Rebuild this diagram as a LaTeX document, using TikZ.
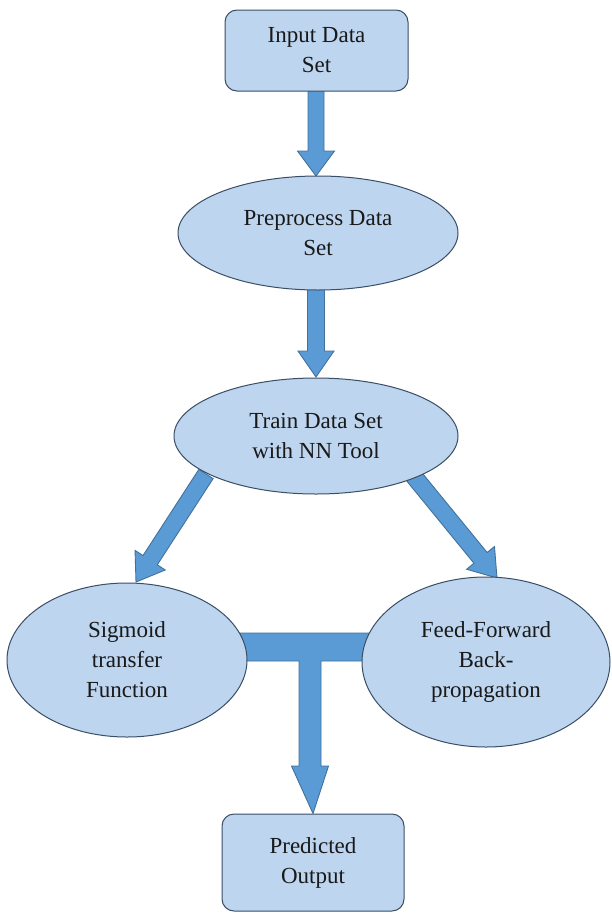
\documentclass[tikz,border=0pt]{standalone}
\usepackage{fontspec}
\setmainfont{Liberation Serif}
\usetikzlibrary{shapes.geometric,calc}
\pgfdeclarelayer{background}
\pgfsetlayers{background,main}
\definecolor{nodefill}{HTML}{BDD5EE}
\definecolor{nodeline}{HTML}{3A4E66}
\definecolor{arrfill}{HTML}{5B9BD5}
\definecolor{arrline}{HTML}{41719C}
\tikzset{
  txt/.style={font=\fontsize{23}{30}\selectfont, text=black!90, align=center, inner sep=0pt},
  rbox/.style={txt, draw=nodeline, fill=nodefill, line width=1pt, rounded corners=12pt},
  ell/.style={txt, ellipse, draw=nodeline, fill=nodefill, line width=1pt},
  blockarr/.style={fill=arrfill, draw=arrline, line width=0.9pt, line join=miter},
}
% block arrow: from #1 to #2, half shaft width #3, half head width #4, head length #5
\newcommand{\blockarrow}[5]{%
  \coordinate (hb) at ($(#2)!#5!(#1)$);
  \draw[blockarr] ($(#1)!#3!90:(#2)$) -- ($(hb)!#3!90:(#2)$) -- ($(hb)!#4!90:(#2)$)
    -- (#2) -- ($(hb)!#4!-90:(#2)$) -- ($(hb)!#3!-90:(#2)$) -- ($(#1)!#3!-90:(#2)$) -- cycle;
}
\begin{document}
\begin{tikzpicture}[x=1pt,y=-1pt]
\useasboundingbox (0,0) rectangle (611,913);
% nodes
\node[rbox, minimum width=183pt, minimum height=81pt] (in) at (316.5,50.5) {Input Data\\Set};
\node[ell, minimum width=280pt, minimum height=114pt] (pre) at (318,233) {Preprocess Data\\Set};
\node[ell, minimum width=284pt, minimum height=116pt] (train) at (316,436) {Train Data Set\\with NN Tool};
\node[ell, minimum width=240pt, minimum height=154pt] (sig) at (127,660) {Sigmoid\\transfer\\Function};
\node[ell, minimum width=248pt, minimum height=170pt] (ff) at (486,662) {Feed-Forward\\Back-\\propagation};
\node[rbox, minimum width=182pt, minimum height=97pt] (out) at (313,862.5) {Predicted\\Output};
% connector anchor points
\coordinate (a1s) at (316,88);
\coordinate (a1e) at (316,176);
\coordinate (a2s) at (316,287);
\coordinate (a2e) at (316,377);
\coordinate (lS) at (206,474);
\coordinate (lE) at (136,582);
\coordinate (rS) at (412,474);
\coordinate (rE) at (497,578);
\coordinate (tj) at (310,647);
\begin{pgfonlayer}{background}
\fill[white] (0,0) rectangle (611,913);
\blockarrow{a1s}{a1e}{8pt}{18.5pt}{25pt}
\blockarrow{a2s}{a2e}{8.5pt}{18pt}{26pt}
\blockarrow{lS}{lE}{8.5pt}{18pt}{26pt}
\blockarrow{rS}{rE}{8.5pt}{18pt}{26pt}
% T-shaped merging connector
\draw[blockarr] ($(sig.center)+(113,-27)$) -- ($(ff.center)+(-114,-29)$) -- ($(ff.center)+(-114,-1)$)
  -- ($(tj)+(11,14)$) -- ($(tj)+(11,119)$) -- ($(tj)+(18.5,119)$) -- (out.north)
  -- ($(tj)+(-18.5,119)$) -- ($(tj)+(-11,119)$) -- ($(tj)+(-11,14)$)
  -- ($(sig.center)+(113,1)$) -- cycle;
\end{pgfonlayer}
\end{tikzpicture}
\end{document}
